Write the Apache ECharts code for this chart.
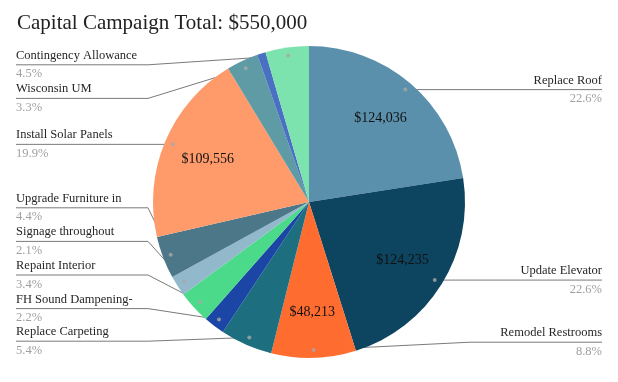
<!DOCTYPE html>
<html><head><meta charset="utf-8">
<script src="https://cdn.jsdelivr.net/npm/echarts@6/dist/echarts.min.js"></script>
<style>html,body{margin:0;padding:0;background:#fff}#c{width:618px;height:382px}</style>
</head><body><div id="c"></div>
<script>
const titleText = 'Capital Campaign Total: $550,000';
const categories = ['Replace Roof','Update Elevator','Remodel Restrooms','Replace Carpeting','FH Sound Dampening-','Repaint Interior','Signage throughout','Upgrade Furniture in','Install Solar Panels','Wisconsin UM','Other','Contingency Allowance'];
const values = [124036,124235,48213,29700,12100,18700,11550,24200,109556,18150,4810,24750];
const showOuterLabel = [true,true,true,true,true,true,true,true,true,true,false,true];
const showValueLabel = [true,true,true,false,false,false,false,false,true,false,false,false];
const palette = ['#5a90ac','#0d4460','#ff6c30','#1d6f7f','#1b46a6','#4bd98a','#92b8cb','#4b7789','#ff9a6b','#5e9ba4','#4a70c4','#7de3ae'];

const W = 618, H = 382;
const CX = 309, CY = 202, R = 156, DOT_R = 148;
const BOX_TOP = 48, BOX_BOTTOM = 23;
const LH = 18.6;
const FS = 12.5;
const FONT = 'Liberation Serif';

// mid angles (degrees clockwise from top) derived from the values
const total = values.reduce((a, b) => a + b, 0);
let acc = 0;
const midAngles = values.map(v => { const m = (acc + v / 2) / total * 360; acc += v; return m; });
const dotData = [];
midAngles.forEach((m, i) => { if (showOuterLabel[i]) dotData.push([DOT_R, m]); });
const dotY = midAngles.map(m => CY - DOT_R * Math.cos(m * Math.PI / 180));
const isRight = midAngles.map(m => Math.sin(m * Math.PI / 180) >= 0);
const crowded = dotY.map((y, i) => showOuterLabel[i] && dotY.some((y2, j) =>
  j !== i && showOuterLabel[j] && isRight[j] === isRight[i] && Math.abs(y2 - y) < 2 * LH));

const chart = echarts.init(document.getElementById('c'), null, {renderer: 'canvas'});
const data1 = categories.map((n, i) => ({
  name: n, value: values[i],
  itemStyle: {color: palette[i]},
  label: {show: showOuterLabel[i]},
  labelLine: {show: showOuterLabel[i]}
}));
const data2 = categories.map((n, i) => ({
  name: n, value: values[i],
  itemStyle: {color: 'rgba(0,0,0,0)'},
  label: {show: showValueLabel[i]}
}));
chart.setOption({
  animation: false,
  backgroundColor: '#ffffff',
  textStyle: {fontFamily: FONT},
  title: {
    text: titleText, left: 12, top: 8,
    textStyle: {fontFamily: FONT, fontSize: 21, fontWeight: 'normal', color: '#222'}
  },
  polar: {center: [CX, CY], radius: R},
  angleAxis: {type: 'value', min: 0, max: 360, startAngle: 90, clockwise: true, show: false},
  radiusAxis: {type: 'value', min: 0, max: R, show: false},
  series: [{
    type: 'pie', top: BOX_TOP, bottom: BOX_BOTTOM, left: 0, right: 0,
    center: [CX, CY - BOX_TOP], radius: R, startAngle: 90, clockwise: true,
    silent: true, emphasis: {disabled: true},
    data: data1,
    label: {
      alignTo: 'edge', edgeDistance: 16,
      fontFamily: FONT, fontSize: FS,
      formatter: p => '{n|' + p.name + '}\n{p|' + p.percent.toFixed(1) + '%}',
      rich: {
        n: {fontFamily: FONT, fontSize: FS, color: '#262626', lineHeight: LH},
        p: {fontFamily: FONT, fontSize: FS, color: '#a0a0a0', lineHeight: LH}
      }
    },
    labelLine: {length: -8, length2: 10, lineStyle: {color: '#7a7a7a', width: 1}},
    labelLayout: function (p) {
      const pts = p.labelLinePoints;
      if (!pts) return {};
      const i = p.dataIndex;
      const r = p.labelRect;
      const isLeft = r.x + r.width / 2 < CX;
      let ly = r.y + r.height / 2;
      const a = pts[0];
      const dx = a[0] - CX, dy = a[1] - CY, d = Math.hypot(dx, dy) || 1;
      const dot = [CX + dx / d * DOT_R, CY + dy / d * DOT_R];
      const out = {};
      // keep an uncrowded label level with its slice when it was only nudged
      if (!crowded[i] && Math.abs(dot[1] - ly) < 12 && dot[1] - r.height / 2 >= BOX_TOP && dot[1] + r.height / 2 <= H - BOX_BOTTOM) {
        out.y = dot[1];
        ly = dot[1];
      }
      const edgeX = isLeft ? r.x : r.x + r.width;
      const bendX = isLeft ? Math.min(edgeX + 132, dot[0]) : Math.max(edgeX - 132, dot[0]);
      out.labelLinePoints = [dot, [bendX, ly], [edgeX, ly]];
      return out;
    }
  }, {
    type: 'pie', top: BOX_TOP, bottom: BOX_BOTTOM, left: 0, right: 0,
    center: [CX, CY - BOX_TOP], radius: [58, R], startAngle: 90, clockwise: true,
    silent: true, emphasis: {disabled: true},
    data: data2,
    label: {
      position: 'inner',
      formatter: p => '$' + p.value.toLocaleString('en-US'),
      fontFamily: FONT, fontSize: 14, color: '#111'
    },
    labelLine: {show: false}
  }, {
    type: 'scatter', coordinateSystem: 'polar', silent: true,
    symbol: 'circle', symbolSize: 4, z: 5,
    itemStyle: {color: '#a8a8a8'},
    data: dotData
  }]
});
</script></body></html>
